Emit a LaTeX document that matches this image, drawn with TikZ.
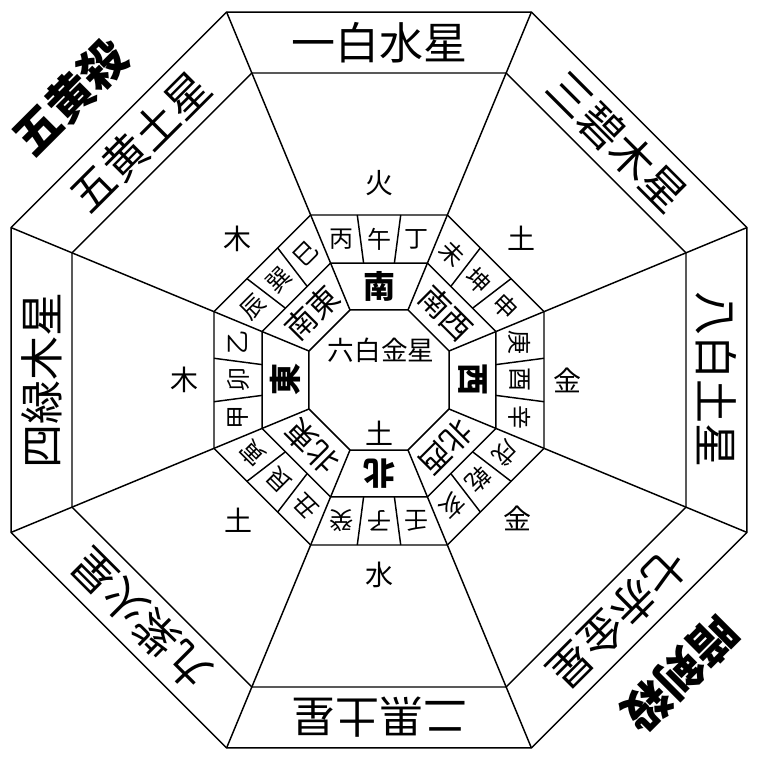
\documentclass[tikz,border=0pt]{standalone}
\usepackage{fontspec}
\setmainfont{Noto Sans CJK JP}
\newcommand{\fs}[1]{\fontsize{#1}{#1}\selectfont}

\begin{document}
\begin{tikzpicture}[x=0.75pt,y=0.75pt]
        \tikzstyle{ring}=[line width=1.1pt, line join=miter]
        \tikzstyle{star}=[inner sep=0pt, font=\fs{33pt}]
        \tikzstyle{sha}=[inner sep=0pt, font=\fs{35pt}\bfseries]
        \tikzstyle{mtn}=[inner sep=0pt, font=\fs{18pt}]
        \tikzstyle{dir}=[inner sep=0pt, font=\fs{24pt}\bfseries]
        \tikzstyle{dirtwo}=[inner sep=0pt, font=\fs{23pt}]
        \tikzstyle{elem}=[inner sep=0pt, font=\fs{21pt}]
        \useasboundingbox (-379,-383) rectangle (378,380);

        % Octagons, from the outside in
        \foreach \r in {398.3,332.3,178.6,126.6,75.8}
            \draw[ring] (22.5:\r) \foreach \k in {1,...,7}{ -- (22.5+45*\k:\r)} -- cycle;

        % Corner lines
        \foreach \k in {0,...,7}
            \draw[ring] (22.5+45*\k:75.8) -- (22.5+45*\k:398.3);

        % Cells of the 24 mountains
        \foreach \k in {0,...,7}
            \foreach \s in {-7.5,7.5}
                \draw[ring] (45*\k+\s:118.0) -- (45*\k+\s:166.4);

        % Stars in the outer band
        \foreach \t [count=\k from 0] in {一白水星,三碧木星,八白土星,七赤金星,二黒土星,九紫火星,四緑木星,五黄土星}
            \node[star, rotate=-45*\k] (star\k) at (90-45*\k:337.5) {\t};

        % 24 mountains
        \foreach \t [count=\i from 0] in {丙,午,丁,未,坤,申,庚,酉,辛,戌,乾,亥,壬,子,癸,丑,艮,寅,甲,卯,乙,辰,巽,巳}{
            \pgfmathtruncatemacro\s{floor(\i/3)}
            \pgfmathsetmacro\d{141/cos(15*(mod(\i,3)-1))}
            \node[mtn, rotate=-45*\s] (mtn\i) at (105-15*\i:\d) {\t};
        }

        % Eight directions
        \foreach \t [count=\k from 0] in {南,西,北,東}
            \node[dir, rotate=-90*\k] (dir\k) at (90-90*\k:93.5) {\t};
        \foreach \t [count=\k from 0] in {南西,北西,北東,南東}
            \node[dirtwo, rotate=-45-90*\k] (dirtwo\k) at (45-90*\k:95) {\t};

        % Elements of the sectors
        \foreach \a/\r/\t [count=\k] in {90/197/火,45/201/土,0/188/金,-45/196/金,-90/195/水,-135/199/土,180/194/木,135/200/木}
            \node[elem] (elem\k) at (\a:\r) {\t};

        % Centre
        \node[elem, font=\fs{20pt}] (centre) at (2,30) {六白金星};
        \node[elem] (centreelem) at (0,-53) {土};

        % Outside the octagon
        \node[sha, rotate=45] (gooh) at (-309,283) {五黄殺};
        \node[sha, rotate=-135] (anken) at (301,-293) {暗剣殺};
\end{tikzpicture}
\end{document}
